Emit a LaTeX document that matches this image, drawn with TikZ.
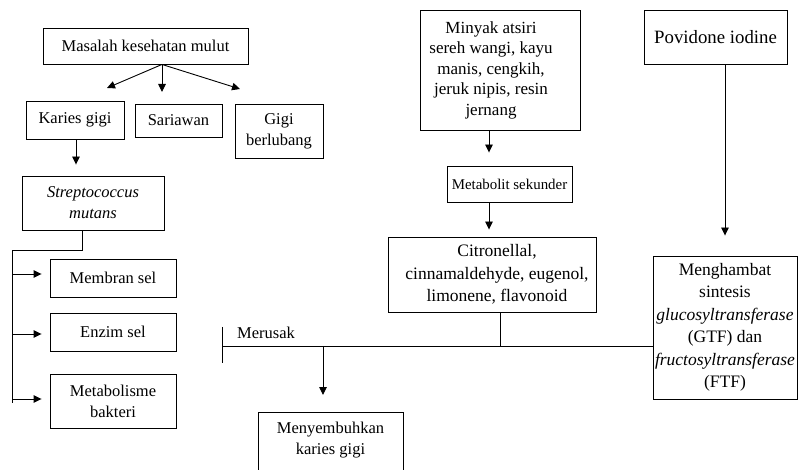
\documentclass[tikz,border=0pt]{standalone}
\usepackage{fontspec}
\setmainfont{Liberation Serif}
\usetikzlibrary{arrows.meta}
\newcommand\fsz[2]{\fontsize{#1}{#2}\selectfont}
\newcommand\sh{\hspace*{-18pt}}
\tikzset{
  box/.style={draw, line width=0.9pt, inner sep=0pt, align=center, font=\fsz{16.5}{21}},
  txt/.style={inner sep=0pt, align=center, font=\fsz{16.5}{21}},
  conn/.style={line width=0.9pt},
  arr/.style={conn, -{Triangle[length=8pt,width=7.5pt]}}
}
\begin{document}
\begin{tikzpicture}[x=1pt,y=-1pt]
\useasboundingbox (0,0) rectangle (798,470);
\clip (0,0) rectangle (798,470);
% left branch
\node[box, minimum width=205pt, minimum height=36pt] (mas) at (145.5,46) {Masalah kesehatan mulut};
\node[box, minimum width=98pt, minimum height=38pt] (kar) at (75,120) {Karies gigi};
\node[box, minimum width=87pt, minimum height=33pt] (sar) at (178.5,120.5) {Sariawan};
\node[box, minimum width=88pt, minimum height=54pt] (gig) at (279,131) {Gigi\\berlubang};
\node[box, minimum width=142pt, minimum height=54pt] (str) at (93,203) {\textit{Streptococcus}\\\textit{mutans}};
\node[box, minimum width=126pt, minimum height=38pt] (mem) at (113,278) {Membran sel};
\node[box, minimum width=126pt, minimum height=38pt] (enz) at (113,332) {Enzim sel};
\node[box, minimum width=126pt, minimum height=54pt] (met) at (113,401) {Metabolisme\\bakteri};
% middle
\node[box, minimum width=160pt, minimum height=120pt, font=\fsz{17}{20.5}] (min) at (500,70) {\sh Minyak atsiri\\\sh sereh wangi, kayu\\\sh manis, cengkih,\\\sh jeruk nipis, resin\\\sh jernang};
\node[box, minimum width=125pt, minimum height=36pt, font=\fsz{14.9}{19}] (mts) at (509.5,184) {Metabolit sekunder};
\node[box, minimum width=208pt, minimum height=75pt, font=\fsz{17.5}{22.5}] (cit) at (492,274.5) {\hspace*{10pt}Citronellal,\\\hspace*{10pt}cinnamaldehyde, eugenol,\\\hspace*{10pt}limonene, flavonoid};
% right
\node[box, minimum width=143pt, minimum height=54pt, font=\fsz{18.8}{22}] (pov) at (715.5,37) {Povidone iodine};
\node[box, minimum width=144pt, minimum height=143pt, font=\fsz{17.5}{22.5}] (mgh) at (725,327.5) {Menghambat\\sintesis\\\textit{glucosyltransferase}\\(GTF) dan\\\textit{fructosyltransferase}\\(FTF)};
% bottom
\node[box, minimum width=145pt, minimum height=90pt, anchor=north] (mny) at (330.5,412) {};
\node[txt] (mnyt) at (330.5,440) {Menyembuhkan\\karies gigi};
\node[txt, anchor=west] (mer) at (237,333) {Merusak};
% connectors
\coordinate (hub) at ([xshift=16.5pt]mas.south);
\coordinate (tl) at (107,88);
\coordinate (tm) at (162,92);
\coordinate (tr) at (240,89);
\draw[arr] (hub) -- (tl);
\draw[arr] (hub) -- (tm);
\draw[arr] (hub) -- (tr);
\draw[arr, shorten >=11pt] ([xshift=1pt]kar.south) -- ([xshift=1pt]kar.south |- str.north);
\coordinate (sp) at (12,250);
\coordinate (spb) at (12,403);
\draw[conn] ([xshift=-11pt]str.south) |- (sp) -- (spb);
\draw[arr, shorten >=8pt] ([yshift=4pt]sp |- mem.west) -- ([yshift=4pt]mem.west);
\draw[arr, shorten >=8pt] ([yshift=-2pt]sp |- enz.west) -- ([yshift=-2pt]enz.west);
\draw[arr, shorten >=8pt] ([yshift=2pt]sp |- met.west) -- ([yshift=2pt]met.west);
\draw[arr, shorten >=13pt] ([xshift=-11pt]min.south) -- ([xshift=-11pt]min.south |- mts.north);
\draw[arr, shorten >=7pt] ([xshift=-20.5pt]mts.south) -- ([xshift=-20.5pt]mts.south |- cit.north);
\draw[arr, shorten >=20pt] (pov.south -| mgh.north) -- (mgh.north);
\coordinate (bar) at (222,346);
\draw[conn] ([yshift=19pt]bar) -- ([yshift=-17pt]bar);
\draw[conn] (bar) -- (bar -| mgh.west);
\draw[conn] ([xshift=8pt]cit.south) -- ([xshift=8pt]cit.south |- bar);
\coordinate (drop) at (323,346);
\draw[arr, shorten >=17pt] (drop) -- (drop |- mny.north);
\end{tikzpicture}
\end{document}
